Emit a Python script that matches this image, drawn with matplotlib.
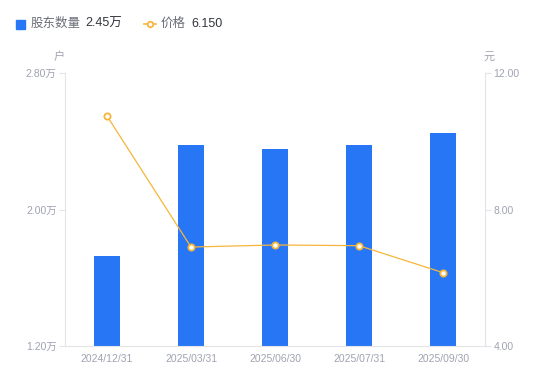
import matplotlib
matplotlib.use("Agg")
import matplotlib.pyplot as plt
from matplotlib.lines import Line2D
from matplotlib.patches import Rectangle

plt.rcParams['font.family'] = ['Liberation Sans', 'Noto Sans CJK SC', 'DejaVu Sans']

categories = ["2024/12/31", "2025/03/31", "2025/06/30", "2025/07/31", "2025/09/30"]
holders = [1.73, 2.38, 2.355, 2.38, 2.45]   # 万户
prices = [10.74, 6.90, 6.96, 6.94, 6.15]    # 元
left_ticks = [1.20, 2.00, 2.80]
right_ticks = [4.00, 8.00, 12.00]

BLUE = "#2776F6"
ORANGE = "#F7B53A"
TICK = "#A0A3B1"
AXIS = "#E3E4E8"
DARK = "#33353C"

fig = plt.figure(figsize=(5.5, 3.81), dpi=100)
ax = fig.add_axes([65/550, 1-346/381, 420/550, 273/381])
x = list(range(len(categories)))
ax.bar(x, holders, width=0.3, color=BLUE, zorder=2)
ax.set_xlim(-0.5, len(categories)-0.5)
ax.set_ylim(left_ticks[0], left_ticks[-1])
ax.set_yticks(left_ticks)
ax.set_yticklabels([f"{v:.2f}万" for v in left_ticks])
ax.set_xticks(x)
ax.set_xticklabels(categories)

ax2 = ax.twinx()
ax2.plot(x, prices, color=ORANGE, lw=0.9, marker='o', ms=4.5, mfc='white',
         mec=ORANGE, mew=1.3, zorder=3)
ax2.set_ylim(right_ticks[0], right_ticks[-1])
ax2.set_yticks(right_ticks)
ax2.set_yticklabels([f"{v:.2f}" for v in right_ticks])

for a in (ax, ax2):
    for s in a.spines.values():
        s.set_color(AXIS)
        s.set_linewidth(0.8)
    a.spines['top'].set_visible(False)
    a.tick_params(axis='both', colors=AXIS, labelcolor=TICK, labelsize=7.5, length=4, width=0.8)
ax.tick_params(axis='x', length=0, pad=6)
ax2.spines['left'].set_visible(False)
ax2.spines['bottom'].set_visible(False)
ax.spines['right'].set_visible(False)
ax.tick_params(axis='y', pad=2)
ax2.tick_params(axis='y', pad=2)

fig.text(59/550, 1-57/381, "户", color=TICK, fontsize=8, ha='center', va='center')
fig.text(489/550, 1-57/381, "元", color=TICK, fontsize=8, ha='center', va='center')

# legend
fig.patches.append(Rectangle((16/550, 1-29/381), 9/550, 9/381, transform=fig.transFigure,
                             color=BLUE, figure=fig))
fig.text(31/550, 1-24/381, "股东数量", color="#6B6E78", fontsize=9, va='center')
fig.text(85/550, 1-24/381, "2.45万", color=DARK, fontsize=9, va='center')
leg_line = Line2D([144/550, 150/550, 156/550], [1-24/381]*3, transform=fig.transFigure,
                  color=ORANGE, lw=1.2, marker='o', ms=4, mfc='white', mec=ORANGE,
                  mew=1.3, markevery=[1], figure=fig)
fig.lines.append(leg_line)
fig.text(161/550, 1-24/381, "价格", color="#6B6E78", fontsize=9, va='center')
fig.text(191/550, 1-24/381, "6.150", color=DARK, fontsize=9, va='center')

fig.savefig("out.png", dpi=100)
